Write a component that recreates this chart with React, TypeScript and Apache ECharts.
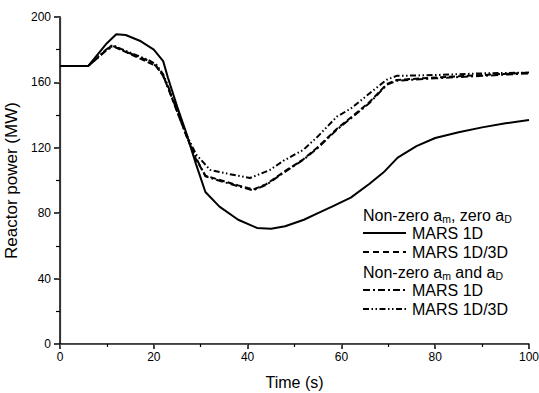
import React, { useEffect, useRef } from "react";
import * as echarts from "echarts";

// Time (s) and reactor power (MW) for each curve
const solidT = [0, 6, 8, 10, 12, 14, 17, 20, 22, 23, 25, 26.7, 29, 31, 34, 38, 42, 45, 48, 52, 55, 58, 62, 66, 69, 72, 76, 80, 85, 90, 95, 100];
const solidV = [170, 170, 177, 184, 189.5, 189, 185.5, 180, 173, 163, 145, 131, 110, 93, 84, 76, 71, 70.5, 72, 76, 80, 84, 89.5, 98, 105, 114, 121, 126, 129.5, 132.5, 135, 137];

const dashT = [0, 6, 8, 10, 11, 13, 16, 19, 20.5, 22, 23, 25, 27, 29, 31, 35, 38, 41.2, 44, 47.6, 51.9, 55, 59, 62, 66, 69.7, 71.8, 80, 90, 100];
const dashV = [170, 170, 175, 180, 182.5, 180, 176, 172, 170, 164, 157, 142, 127, 113, 103, 99.5, 97, 94.5, 97.8, 105, 113, 120.5, 131.5, 138.5, 148, 159, 161.5, 163, 164.5, 166];

const dashDotT = [0, 6, 8, 10, 11.5, 13, 16, 19, 20.5, 22, 23, 25, 27, 29, 31, 35, 38, 41.2, 44, 47.6, 51.9, 55, 59, 62, 66, 69.7, 71.8, 80, 90, 100];
const dashDotV = [170, 170, 175, 180, 182, 180, 176.5, 173, 170, 164, 157, 142, 127, 114, 102.5, 99, 96.5, 94, 97.4, 104.6, 112.7, 120, 131, 138, 147.4, 158.6, 161, 162.5, 164, 165.5];

const dashDotDotT = [0, 6, 8, 10, 11.5, 13, 16, 19, 20.5, 22, 23, 25, 27, 29, 32, 36, 40.5, 44.8, 47.6, 51.9, 55, 59, 62, 66.1, 69.7, 71.8, 80, 90, 100];
const dashDotDotV = [170, 170, 175.5, 180.5, 182.5, 180.5, 177, 173.5, 171, 165, 158, 143, 128, 116, 106.5, 104, 101.5, 106.5, 112, 118.8, 127, 139, 144, 153.5, 161.7, 164, 164.5, 165.5, 166];

const xTicks = { min: 0, max: 100, interval: 20 };
const yTicks = { min: 0, max: 200, interval: 40 };

const FONT = "Liberation Sans, Arial, Helvetica, sans-serif";

const zip = (t: number[], v: number[]) => t.map((x, i) => [x, v[i]]);

export default function App() {
  const ref = useRef<HTMLDivElement>(null);
  useEffect(() => {
    if (!ref.current) return;
    const chart = echarts.init(ref.current, null, { renderer: "svg" });
    const lineSeries = (name: string, t: number[], v: number[], dash: any) => ({
      name,
      type: "line",
      data: zip(t, v),
      showSymbol: false,
      symbol: "none",
      lineStyle: { color: "#000", width: 2, type: dash },
      xAxisIndex: 0,
      yAxisIndex: 0,
      z: 3,
    });
    const subRich = {
      a: { fontSize: 16, lineHeight: 15, verticalAlign: "top", fontFamily: FONT, color: "#000" },
      s: { fontSize: 10.5, lineHeight: 10, padding: [6, 0, 0, 0], verticalAlign: "top", fontFamily: FONT, color: "#000" },
    };
    const lx1 = 363, lx2 = 406, tx = 412;
    const rows = [214, 233, 252, 271, 290, 309];
    const legLine = (y: number, dash: any) => ({
      type: "line",
      shape: { x1: lx1, y1: y, x2: lx2, y2: y },
      style: { stroke: "#000", lineWidth: 2, lineDash: dash },
    });
    const legText = (y: number, text: string) => ({
      type: "text",
      x: tx,
      y,
      style: { text, font: `16px ${FONT}`, fill: "#000", verticalAlign: "middle", align: "left" },
    });
    const richText = (y: number, text: string) => ({
      type: "text",
      x: lx1,
      y: y + 1,
      style: { text, rich: subRich, fill: "#000", verticalAlign: "middle", align: "left", font: `16px ${FONT}` },
    });
    chart.setOption({
      animation: false,
      backgroundColor: "#fff",
      grid: { left: 60, right: 10, top: 17, bottom: 49, outerBoundsMode: "none", containLabel: false },
      xAxis: [
        {
          type: "value",
          ...xTicks,
          name: "Time (s)",
          nameLocation: "middle",
          nameGap: 30,
          nameTextStyle: { fontFamily: FONT, fontSize: 16, color: "#000" },
          axisLine: { show: true, lineStyle: { color: "#000", width: 1.5 } },
          axisTick: { show: true, length: 5, inside: false, lineStyle: { color: "#000", width: 1.5 } },
          minorTick: { show: true, splitNumber: 2, length: 3, lineStyle: { color: "#000", width: 1.2 } },
          axisLabel: { fontFamily: FONT, fontSize: 12, color: "#000", margin: 7 },
          splitLine: { show: false },
        },
        {
          type: "value",
          position: "top",
          ...xTicks,
          axisLine: { show: true, lineStyle: { color: "#555", width: 1 } },
          axisTick: { show: true, inside: true, length: 3, lineStyle: { color: "#555" } },
          minorTick: { show: false },
          axisLabel: { show: false },
          splitLine: { show: false },
        },
      ],
      yAxis: [
        {
          type: "value",
          ...yTicks,
          name: "Reactor power (MW)",
          nameLocation: "middle",
          nameGap: 33,
          nameTextStyle: { fontFamily: FONT, fontSize: 17, color: "#000" },
          axisLine: { show: true, lineStyle: { color: "#000", width: 1.5 } },
          axisTick: { show: true, length: 6, inside: false, lineStyle: { color: "#000", width: 1.5 } },
          minorTick: { show: true, splitNumber: 2, length: 4, lineStyle: { color: "#000", width: 1.2 } },
          axisLabel: { fontFamily: FONT, fontSize: 12, color: "#000", margin: 9 },
          splitLine: { show: false },
        },
        {
          type: "value",
          position: "right",
          ...yTicks,
          axisLine: { show: true, lineStyle: { color: "#333", width: 1.2 } },
          axisTick: { show: true, inside: true, length: 3, lineStyle: { color: "#555" } },
          axisLabel: { show: false },
          splitLine: { show: false },
        },
      ],
      series: [
        lineSeries("MARS 1D (zero aD)", solidT, solidV, "solid"),
        lineSeries("MARS 1D/3D (zero aD)", dashT, dashV, [6, 3]),
        lineSeries("MARS 1D (non-zero aD)", dashDotT, dashDotV, [7, 3, 2, 3]),
        lineSeries("MARS 1D/3D (non-zero aD)", dashDotDotT, dashDotDotV, [6, 2.5, 1.5, 2.5, 1.5, 2.5]),
      ],
      graphic: [
        richText(rows[0], "{a|Non-zero a}{s|m}{a|, zero a}{s|D}"),
        legLine(rows[1], null),
        legText(rows[1], "MARS 1D"),
        legLine(rows[2], [6, 4]),
        legText(rows[2], "MARS 1D/3D"),
        richText(rows[3], "{a|Non-zero a}{s|m}{a| and a}{s|D}"),
        legLine(rows[4], [7, 3, 2, 3]),
        legText(rows[4], "MARS 1D"),
        legLine(rows[5], [6, 2.5, 1.5, 2.5, 1.5, 2.5]),
        legText(rows[5], "MARS 1D/3D"),
      ],
    });
    return () => chart.dispose();
  }, []);
  return <div ref={ref} style={{ position: "fixed", left: 0, top: 0, width: 539, height: 393 }} />;
}
